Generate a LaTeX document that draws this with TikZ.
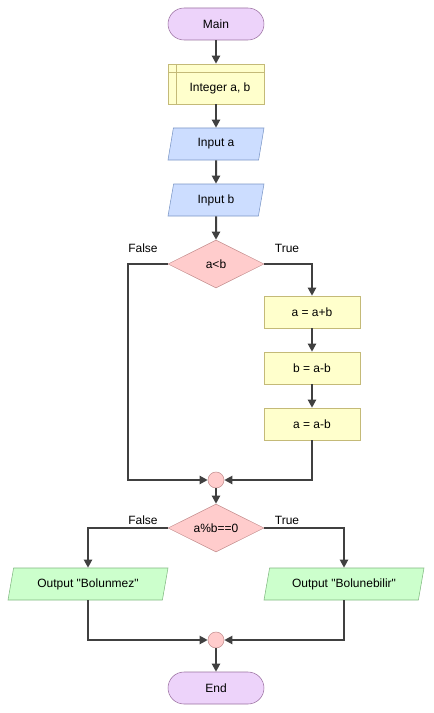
\documentclass[tikz,border=0pt]{standalone}
\usepackage{fontspec}
\setmainfont{Liberation Sans}
\usetikzlibrary{shapes.geometric,arrows.meta}
\definecolor{termfill}{HTML}{EDD3FA}
\definecolor{termline}{HTML}{9A70A0}
\definecolor{declfill}{HTML}{FFFFCC}
\definecolor{declline}{HTML}{C4BA78}
\definecolor{iofill}{HTML}{CCDDFF}
\definecolor{ioline}{HTML}{7A96C6}
\definecolor{outfill}{HTML}{CCFFCC}
\definecolor{outline}{HTML}{80B880}
\definecolor{ifill}{HTML}{FFCCCC}
\definecolor{iline}{HTML}{C49090}
\definecolor{flowcol}{HTML}{404040}
\tikzset{
  term/.style={rectangle,rounded corners=12pt,draw=termline,fill=termfill,minimum width=72pt,minimum height=24pt,inner sep=0pt},
  decl/.style={rectangle,draw=declline,fill=declfill,minimum width=72pt,minimum height=30pt,inner sep=0pt,
    path picture={\draw[declline,line width=0.6pt] ([xshift=6pt]path picture bounding box.north west) -- ([xshift=6pt]path picture bounding box.south west)
      ([yshift=-6pt]path picture bounding box.north west) -- ([yshift=-6pt]path picture bounding box.north east);}},
  proc/.style={rectangle,draw=declline,fill=declfill,minimum width=72pt,minimum height=24pt,inner sep=0pt},
  inbox/.style={trapezium,trapezium left angle=63.4,trapezium right angle=116.6,trapezium stretches body,
    draw=ioline,fill=iofill,minimum width=72pt,minimum height=24pt,inner sep=0pt},
  outbox/.style={inbox,draw=outline,fill=outfill,minimum width=120pt},
  cond/.style={diamond,aspect=2,draw=iline,fill=ifill,minimum width=72pt,minimum height=36pt,inner sep=0pt},
  joint/.style={circle,draw=iline,fill=ifill,minimum size=12pt,inner sep=0pt},
  flow/.style={draw=flowcol,line width=1.5pt,-{Triangle[length=6pt,width=6pt]}}
}

\begin{document}
\begin{tikzpicture}[x=0.75pt,y=-0.75pt,every node/.style={font=\fontsize{9}{11}\selectfont}]
  \useasboundingbox (0,0) rectangle (433,713);
  \node[term] (main) at (216,24) {Main};
  \node[decl] (dec) at (216,84) {};
  \node (dectext) at (220,88) {Integer a, b};
  \node[inbox] (ina) at (216,144) {Input a};
  \node[inbox] (inb) at (216,200) {Input b};
  \node[cond] (if1) at (216,264) {a<b};
  \node (f1) at (143,248) {False};
  \node (t1) at (287,248) {True};
  \node[proc] (s1) at (312,312) {a = a+b};
  \node[proc] (s2) at (312,368) {b = a-b};
  \node[proc] (s3) at (312,424) {a = a-b};
  \node[joint] (j1) at (216,480) {};
  \node[cond] (if2) at (216,528) {a\%b==0};
  \node (f2) at (143,520) {False};
  \node (t2) at (287,520) {True};
  \node[outbox] (o1) at (88,584) {Output \textquotedbl Bolunmez\textquotedbl};
  \node[outbox] (o2) at (344,584) {Output \textquotedbl Bolunebilir\textquotedbl};
  \node[joint] (j2) at (216,640) {};
  \node[term] (end) at (216,688) {End};
  \coordinate (l1) at (128,264);
  % main column
  \draw[flow] (main) -- (dec);
  \draw[flow] (dec) -- (ina);
  \draw[flow] (ina) -- (inb);
  \draw[flow] (inb) -- (if1);
  % first decision
  \draw[flow] (if1.west) -- (l1) |- (j1.west);
  \draw[flow] (if1.east) -| (s1.north);
  \draw[flow] (s1) -- (s2);
  \draw[flow] (s2) -- (s3);
  \draw[flow] (s3.south) |- (j1.east);
  \draw[flow] (j1) -- (if2);
  % second decision
  \draw[flow] (if2.west) -| (o1.north);
  \draw[flow] (if2.east) -| (o2.north);
  \draw[flow] (o1.south) |- (j2.west);
  \draw[flow] (o2.south) |- (j2.east);
  \draw[flow] (j2) -- (end);
\end{tikzpicture}
\end{document}
